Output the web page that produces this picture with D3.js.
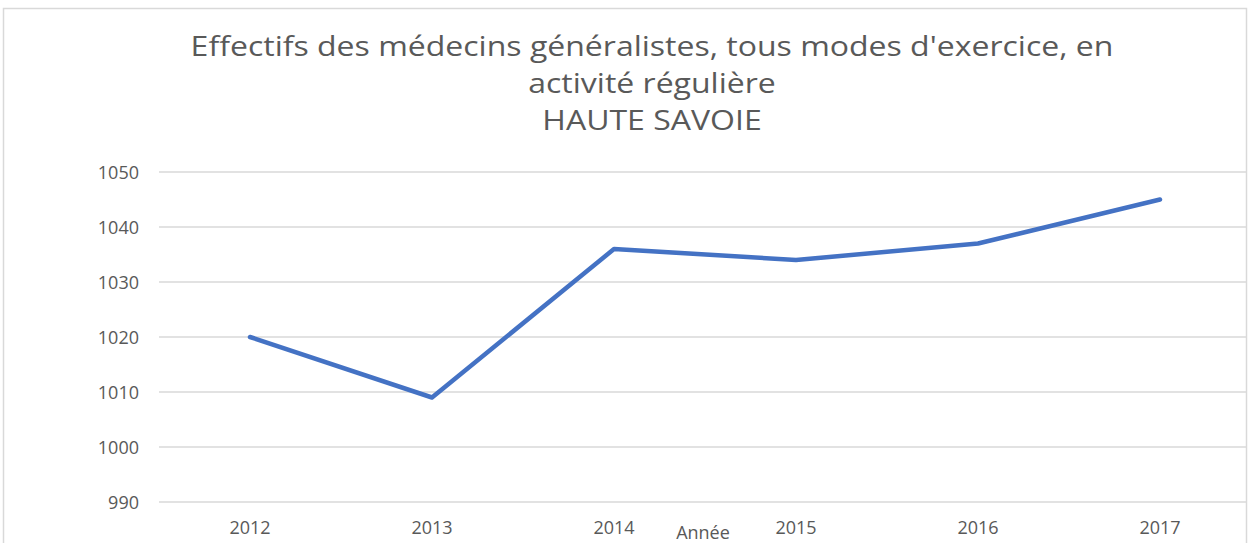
<!DOCTYPE html>
<html><head><meta charset="utf-8">
<script src="https://cdn.jsdelivr.net/npm/d3@7"></script>
<style>body{margin:0;background:#fff;overflow:hidden}svg{display:block}text{font-family:"Open Sans",sans-serif;fill:#595959}</style>
</head><body>
<script>
const years = ["2012","2013","2014","2015","2016","2017"];
const values = [1020, 1009, 1036, 1034, 1037, 1045];
const yTicks = [990, 1000, 1010, 1020, 1030, 1040, 1050];
const titleLines = ["Effectifs des médecins généralistes, tous modes d'exercice, en", "activité régulière", "HAUTE SAVOIE"];
const xAxisTitle = "Année";

const W = 1249, H = 543;
const svg = d3.select("body").append("svg").attr("width", W).attr("height", H);
svg.append("rect").attr("x", 3.5).attr("y", 8.5).attr("width", 1243).attr("height", 560)
  .attr("fill", "#fff").attr("stroke", "#d9d9d9").attr("stroke-width", 1.5);

const x = d3.scaleBand().domain(years).range([159, 1251]);
const y = d3.scaleLinear().domain([990, 1050]).range([502, 172]);

// gridlines
svg.append("g").selectAll("line").data(yTicks).join("line")
  .attr("x1", 159).attr("x2", 1247).attr("y1", d => y(d)).attr("y2", d => y(d))
  .attr("stroke", "#d9d9d9").attr("stroke-width", 1.5);

// y axis labels
const yAxis = svg.append("g").attr("transform", "translate(139,0)")
  .call(d3.axisLeft(y).tickValues(yTicks).tickFormat(d3.format("d")).tickSize(0).tickPadding(0));
yAxis.select(".domain").remove();
yAxis.selectAll("text").style("font-size", "18px").attr("fill", "#595959").attr("dy", "0.35em")
  .style("font-family", "'Open Sans',sans-serif");

// x axis labels
const xAxis = svg.append("g").attr("transform", "translate(0,520)")
  .call(d3.axisBottom(x).tickSize(0).tickPadding(0));
xAxis.select(".domain").remove();
xAxis.selectAll("text").style("font-size", "18px").attr("fill", "#595959").attr("dy", "0.75em")
  .style("font-family", "'Open Sans',sans-serif");

svg.append("text").attr("x", 703).attr("y", 539).attr("text-anchor", "middle")
  .style("font-size", "18px").text(xAxisTitle);

// line
const line = d3.line().x((d, i) => x(years[i]) + x.bandwidth() / 2).y(d => y(d));
svg.append("path").datum(values).attr("d", line).attr("fill", "none")
  .attr("stroke", "#4472C4").attr("stroke-width", 4.5).attr("stroke-linecap", "round").attr("stroke-linejoin", "round");

// title (Calibri-like narrow look via horizontal scaling)
const tY = [56, 93, 130];
const tg = svg.append("g");
titleLines.forEach((t, i) => {
  tg.append("text").attr("x", 0).attr("y", tY[i]).attr("text-anchor", "middle")
    .style("font-size", "28px").text(t);
});
const w = tg.select("text").node().getComputedTextLength();
const sx = 923 / w;
tg.attr("transform", `translate(652,0) scale(${sx},1)`);
</script>
</body></html>
